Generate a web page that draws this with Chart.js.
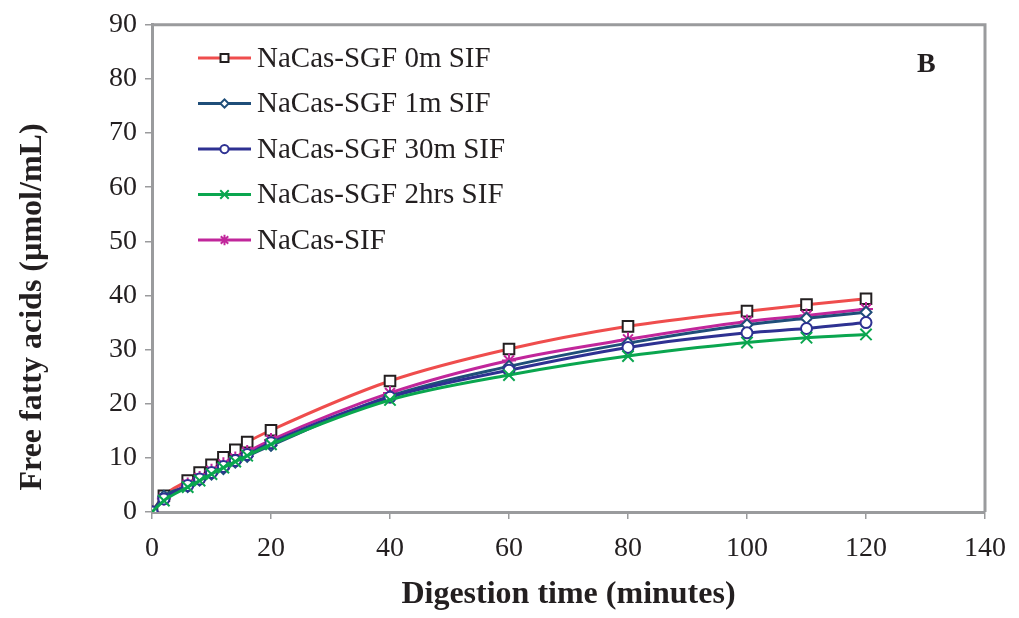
<!DOCTYPE html>
<html>
<head>
<meta charset="utf-8">
<script src="https://cdn.jsdelivr.net/npm/chart.js@4.4.0/dist/chart.umd.min.js"></script>
<style>
  html, body { margin: 0; padding: 0; background: #fff; }
  #wrap { width: 1019px; height: 618px; }
</style>
</head>
<body>
<div id="wrap"><canvas id="myChart" width="1019" height="618"></canvas></div>
<script>
// digestion time (minutes)
const time = [0, 2, 6, 8, 10, 12, 14, 16, 20, 40, 60, 80, 100, 110, 120];
// free fatty acids (umol/mL)
const sgf0m = [0, 3.0, 5.8, 7.3, 8.7, 10.1, 11.5, 12.9, 15.1, 24.2, 30.1, 34.3, 37.1, 38.3, 39.4];
const sgf1m = [0, 2.9, 4.7, 5.9, 7.0, 8.0, 9.2, 10.3, 12.3, 21.4, 26.9, 31.2, 34.6, 35.8, 36.9];
const sgf30m = [0, 2.4, 4.9, 6.1, 7.3, 8.4, 9.5, 10.6, 12.8, 21.2, 26.2, 30.4, 33.1, 33.9, 35.0];
const sgf2h = [0, 2.1, 4.6, 5.8, 7.0, 8.2, 9.3, 10.4, 12.5, 20.7, 25.3, 28.8, 31.3, 32.2, 32.8];
const sif = [0, 2.5, 5.1, 6.3, 7.6, 8.8, 9.9, 11.1, 13.3, 22.0, 28.0, 31.9, 35.2, 36.3, 37.5];
const seriesNames = ["NaCas-SGF 0m SIF", "NaCas-SGF 1m SIF", "NaCas-SGF 30m SIF", "NaCas-SGF 2hrs SIF", "NaCas-SIF"];
const xTicks = [0, 20, 40, 60, 80, 100, 120, 140];
const yTicks = [0, 10, 20, 30, 40, 50, 60, 70, 80, 90];

const serif = "'Liberation Serif', 'Times New Roman', serif";
const axisGray = "#9a9b9d";
const textColor = "#231f20";

const toPoints = (ys) => ys.map((y, i) => ({ x: time[i], y: y }));

const mkSet = (label, ys, line, marker, style, radius) => ({
  label: label,
  data: toPoints(ys),
  borderColor: line,
  borderWidth: 3,
  pointStyle: style,
  pointRadius: radius,
  pointHoverRadius: radius,
  pointBorderColor: marker,
  pointBackgroundColor: "#ffffff",
  pointBorderWidth: 2,
  tension: 0.35,
  cubicInterpolationMode: "monotone",
  fill: false
});

const datasets = [
  mkSet(seriesNames[3], sgf2h, "#0aa64f", "#0aa64f", "crossRot", 8),
  mkSet(seriesNames[2], sgf30m, "#2e3192", "#2e3192", "circle", 5.5),
  mkSet(seriesNames[1], sgf1m, "#1f4e79", "#1f4e79", "rectRot", 5.5),
  mkSet(seriesNames[4], sif, "#c1269b", "#c1269b", "star", 7),
  mkSet(seriesNames[0], sgf0m, "#ef4d4d", "#231f20", "rect", 7.5)
];

// legend order as in the figure
const legendOrder = [4, 2, 1, 0, 3];

const frameAndLegend = {
  id: "frameAndLegend",
  afterDraw(chart) {
    const { ctx, chartArea: a } = chart;
    ctx.save();
    // box around plot
    ctx.strokeStyle = axisGray;
    ctx.lineWidth = 3;
    ctx.beginPath();
    ctx.moveTo(a.left, a.top);
    ctx.lineTo(a.right, a.top);
    ctx.lineTo(a.right, a.bottom);
    ctx.stroke();

    // legend inside plot
    ctx.font = "29px " + serif;
    ctx.textBaseline = "middle";
    legendOrder.forEach((di, k) => {
      const ds = chart.data.datasets[di];
      const y = 58 + k * 45.5;
      const x0 = 198, x1 = 251;
      ctx.strokeStyle = ds.borderColor;
      ctx.lineWidth = 3;
      ctx.beginPath();
      ctx.moveTo(x0, y);
      ctx.lineTo(x1, y);
      ctx.stroke();
      ctx.strokeStyle = ds.pointBorderColor;
      ctx.fillStyle = "#ffffff";
      ctx.lineWidth = 2;
      Chart.helpers.drawPoint(ctx, { pointStyle: ds.pointStyle, radius: ds.pointRadius * 0.75, rotation: 0, borderWidth: 2 }, (x0 + x1) / 2, y);
      ctx.fillStyle = textColor;
      ctx.fillText(ds.label, 257, y + 1);
    });

    ctx.font = "bold 28px " + serif;
    ctx.fillText("B", 917, 65);

    // y axis title
    ctx.translate(33, 307);
    ctx.rotate(-Math.PI / 2);
    ctx.textAlign = "center";
    ctx.font = "bold 32px " + serif;
    ctx.fillText("Free fatty acids (µmol/mL)", 0, 0);
    ctx.restore();
  }
};

new Chart(document.getElementById("myChart").getContext("2d"), {
  type: "line",
  data: { datasets: datasets },
  options: {
    responsive: false,
    animation: false,
    events: [],
    layout: { padding: { left: 0, right: 29, top: 10, bottom: 0 } },
    plugins: {
      legend: { display: false },
      tooltip: { enabled: false }
    },
    scales: {
      x: {
        type: "linear",
        min: 0,
        max: 140,
        afterBuildTicks: (s) => { s.ticks = xTicks.map(v => ({ value: v })); },
        afterFit: (s) => { s.height = 106; },
        border: { color: axisGray, width: 3 },
        grid: { drawOnChartArea: false, color: axisGray, lineWidth: 1.5, tickLength: 7 },
        ticks: { color: textColor, font: { family: serif, size: 28 }, padding: 13, maxRotation: 0 },
        title: { display: true, text: "Digestion time (minutes)", color: textColor, font: { family: serif, size: 32, weight: "bold" }, padding: { top: 14 } }
      },
      y: {
        min: 0,
        max: 90,
        afterBuildTicks: (s) => { s.ticks = yTicks.map(v => ({ value: v })); },
        afterFit: (s) => { s.width = 152; },
        border: { color: axisGray, width: 3 },
        grid: { drawOnChartArea: false, color: axisGray, lineWidth: 1.5, tickLength: 7 },
        ticks: { color: textColor, font: { family: serif, size: 28 }, padding: 8 },
        title: { display: false }
      }
    }
  },
  plugins: [frameAndLegend]
});
</script>
</body>
</html>
